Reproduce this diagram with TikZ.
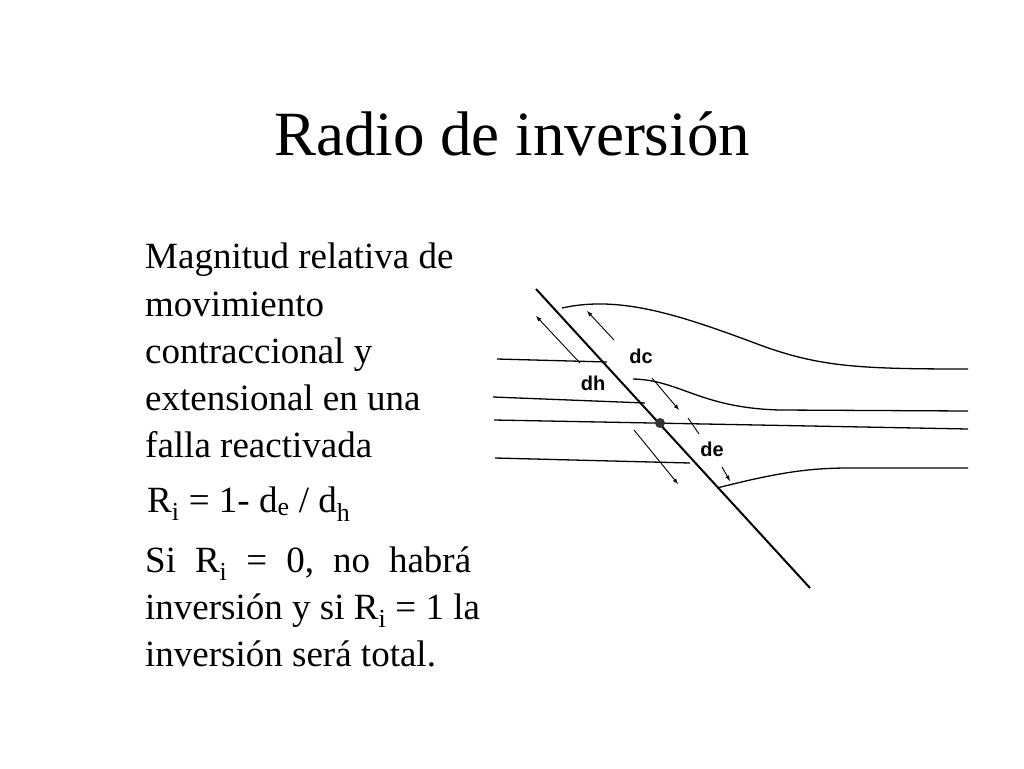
\documentclass[tikz,border=0pt]{standalone}
\usepackage{fontspec}
\setmainfont{Liberation Serif}
\newfontfamily\lab{Liberation Sans}
\begin{document}
\begin{tikzpicture}[x=1pt,y=-1pt,
  txt/.style={anchor=base west,inner sep=0pt,font=\fontsize{37}{40}\selectfont},
  geo/.style={line width=1.3pt},
  ar/.style={line width=0.9pt,-latex},
  lbl/.style={font=\lab\bfseries\fontsize{20}{22}\selectfont}]
\useasboundingbox[fill=white] (0,0) rectangle (1024,768);
\node[anchor=base,inner sep=0pt] (title) at (512,155) {\fontsize{63}{66}\selectfont Radio de inversión};
\node[txt] (t1) at (145,268) {Magnitud relativa de};
\node[txt] (t2) at (145,316) {movimiento};
\node[txt] (t3) at (145,363) {contraccional y};
\node[txt] (t4) at (145,410) {extensional en una};
\node[txt] (t5) at (145,457) {falla reactivada};
\node[txt] (t6) at (147,512) {R\textsubscript{i} = 1- d\textsubscript{e} / d\textsubscript{h}};
\node[txt] (t7) at (145,572) {Si\hspace{19pt}R\textsubscript{i}\hspace{19pt}=\hspace{19pt}0,\hspace{19pt}no\hspace{19pt}habrá};
\node[txt] (t8) at (145,619) {inversión y si R\textsubscript{i} = 1 la};
\node[txt] (t9) at (145,666) {inversión será total.};
\fill[white] (480,262) rectangle (990,603);
% beds
\draw[geo] (562,308) .. controls (620,295) and (680,315) .. (760,345) .. controls (820,367) and (860,369) .. (968,369);
\draw[geo] (497,359) -- (607,362);
\draw[geo] (633,379) .. controls (680,380) and (700,408) .. (780,410) -- (968,411);
\draw[geo] (493,397) -- (645,403);
\draw[geo] (494,420) -- (968,429);
\draw[geo] (495,458) -- (690,463);
\draw[geo] (717,488) .. controls (780,472) and (810,468) .. (850,468) -- (968,468);
% fault
\coordinate (f1) at (536,289);
\coordinate (f2) at (810,588);
\draw[line width=2pt] (f1) -- (f2);
\fill[black!80] (660,423) circle (5);
% arrows
\coordinate (a1) at (580,363); \coordinate (a2) at (536,316);
\draw[ar] (a1) -- (a2);
\coordinate (a3) at (634,430); \coordinate (a4) at (678,484);
\draw[ar] (a3) -- (a4);
\coordinate (a5) at (614,340); \coordinate (a6) at (587,311);
\draw[ar] (a5) -- (a6);
\coordinate (a7) at (652,378); \coordinate (a8) at (679,410);
\draw[ar] (a7) -- (a8);
\coordinate (a9) at (688,418); \coordinate (a10) at (699,434);
\draw[line width=0.9pt] (a9) -- (a10);
\coordinate (a11) at (722,467); \coordinate (a12) at (730,481);
\draw[ar] (a11) -- (a12);
\node[lbl] (dc) at (641,356) {dc};
\node[lbl] (dh) at (593,383) {dh};
\node[lbl] (de) at (712,449) {de};
\end{tikzpicture}
\end{document}
